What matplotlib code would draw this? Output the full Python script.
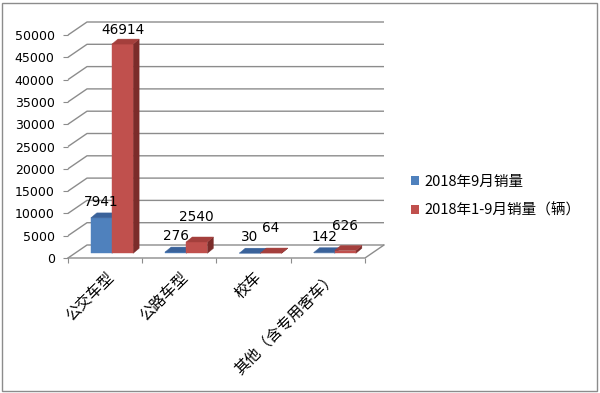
import matplotlib.pyplot as plt
from matplotlib.patches import Polygon, Rectangle, Patch
from matplotlib.transforms import ScaledTranslation

plt.rcParams['font.family'] = ['Noto Sans CJK SC', 'DejaVu Sans']

# data
categories = ['公交车型', '公路车型', '校车', '其他（含专用客车）']
sep_sales = [7941, 276, 30, 142]
ytd_sales = [46914, 2540, 64, 626]
series_names = ['2018年9月销量', '2018年1-9月销量（辆）']
yticks = list(range(0, 50001, 5000))

# styles: (front, top, side)
blue = ('#4F81BD', '#3A629A', '#2F5382')
red = ('#C0504D', '#A43F3C', '#7B2C2A')
grid_c = '#8C8C8C'

W, H = 600, 393
fig = plt.figure(figsize=(W / 100, H / 100), dpi=100)

# front plane of the plot in pixels (origin top-left)
x0px, x1px, y0px, y1px = 68, 365, 258, 35
ax = fig.add_axes([x0px / W, 1 - y0px / H, (x1px - x0px) / W, (y0px - y1px) / H])
ax.set_xlim(0, 4)
ax.set_ylim(0, 50000)
for s in ax.spines.values():
    s.set_visible(False)

px_x = 4 / (x1px - x0px)
px_y = 50000 / (y0px - y1px)
DX, DY = 19 * px_x, 13 * px_y          # wall depth
BDX, BDY = 6 * px_x, 5 * px_y          # bar depth
F = 0.36                               # bar position inside depth
BW = 0.285

# walls / gridlines
for y in yticks:
    ax.plot([0, DX, 4 + DX], [y, y + DY, y + DY], color=grid_c, lw=1.0,
            zorder=1, clip_on=False, solid_capstyle='butt')
ax.plot([0, 4, 4 + DX], [0, 0, DY], color=grid_c, lw=1.0, zorder=1, clip_on=False)


def bar3d(xl, v, cols):
    sx, sy = F * DX, F * DY
    x = xl + sx
    y = sy
    front = Polygon([(x, y), (x + BW, y), (x + BW, y + v), (x, y + v)], closed=True)
    top = Polygon([(x, y + v), (x + BW, y + v), (x + BW + BDX, y + v + BDY),
                   (x + BDX, y + v + BDY)], closed=True)
    side = Polygon([(x + BW, y), (x + BW + BDX, y + BDY), (x + BW + BDX, y + v + BDY),
                    (x + BW, y + v)], closed=True)
    for p, c in zip((side, front, top), (cols[2], cols[0], cols[1])):
        p.set_facecolor(c)
        p.set_edgecolor(c)
        p.set_linewidth(0.3)
        p.set_zorder(3)
        p.set_clip_on(False)
        ax.add_patch(p)
    return x + BW / 2, y + v


for i in range(len(categories)):
    c = i + 0.5
    bx, bt = bar3d(c - BW, sep_sales[i], blue)
    rx, rt = bar3d(c, ytd_sales[i], red)
    ax.annotate(str(sep_sales[i]), (bx, bt), xytext=(0, 11.5), textcoords='offset points',
                ha='center', va='center', fontsize=9.8, family='DejaVu Sans', zorder=5)
    ry = min(rt + 25 * px_y, 50000 + 5 * px_y) - rt
    ax.annotate(str(ytd_sales[i]), (rx, rt), xytext=(0, ry / px_y * 0.72),
                textcoords='offset points', ha='center', va='center', fontsize=9.8,
                family='DejaVu Sans', zorder=5)

# y axis
ax.set_yticks(yticks)
ax.set_yticklabels([str(t) for t in yticks], family='DejaVu Sans', fontsize=9)
ax.tick_params(axis='y', length=3.6, width=0.8, color=grid_c, pad=6)

# x axis
ax.set_xticks([0, 1, 2, 3, 4], minor=True)
ax.set_xticks([i + 0.5 for i in range(len(categories))])
ax.set_xticklabels(categories, rotation=45, ha='right', va='center',
                   rotation_mode='anchor', fontsize=11)
ax.tick_params(axis='x', which='major', length=0, pad=12)
ax.tick_params(axis='x', which='minor', length=3.6, width=0.8, color=grid_c)
shift = ScaledTranslation(6 / 100, 0, fig.dpi_scale_trans)
for lab in ax.get_xticklabels():
    lab.set_transform(lab.get_transform() + shift)

# legend
handles = [Patch(facecolor=blue[0], edgecolor='none'), Patch(facecolor=red[0], edgecolor='none')]
fig.legend(handles, series_names, loc='center left', bbox_to_anchor=(405 / W, 1 - 196 / H),
           frameon=False, fontsize=10.5, handlelength=0.55, handleheight=0.55,
           handletextpad=0.35, labelspacing=1.0, borderaxespad=0)

# outer border
fig.patches.append(Rectangle((2 / W, 2 / H), 595 / W, 388 / H, transform=fig.transFigure,
                             fill=False, edgecolor='#8C8C8C', lw=1.0))

fig.savefig('out.png', dpi=100)
